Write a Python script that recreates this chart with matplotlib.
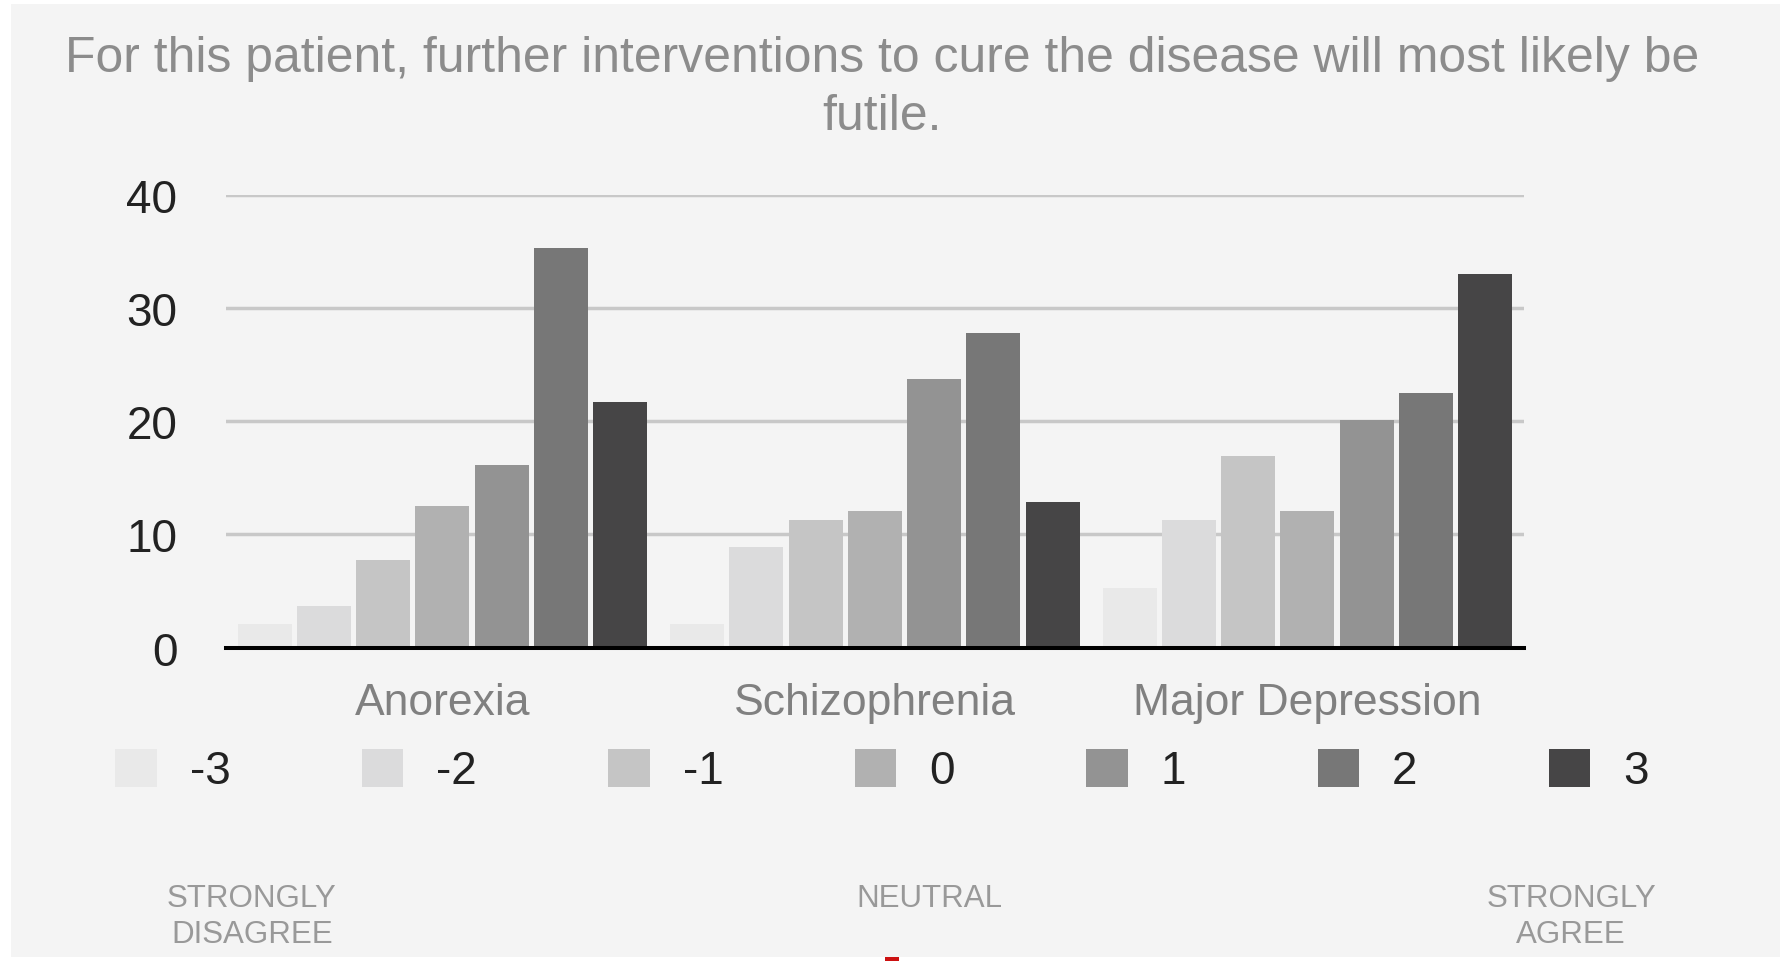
import numpy as np
import matplotlib.pyplot as plt
from matplotlib.patches import Rectangle

plt.rcParams['font.family'] = ['Liberation Sans', 'DejaVu Sans']

# data
diseases = ['Anorexia', 'Schizophrenia', 'Major Depression']
levels = ['-3', '-2', '-1', '0', '1', '2', '3']
values = {
    '-3': [2.1, 2.1, 5.3],
    '-2': [3.7, 8.9, 11.3],
    '-1': [7.7, 11.3, 16.9],
    '0': [12.5, 12.1, 12.1],
    '1': [16.1, 23.7, 20.1],
    '2': [35.3, 27.8, 22.5],
    '3': [21.7, 12.9, 33.0],
}
colors = ['#e9e9e9', '#dbdbdc', '#c5c5c5', '#b1b1b1', '#939393', '#777777', '#464546']
yticks = [0, 10, 20, 30, 40]

bg = '#f4f4f4'
fig = plt.figure(figsize=(17.8, 9.62), dpi=100, facecolor='white')
# grey panel
fig.patches.append(Rectangle((11/1780, 4/962), 1 - 11/1780, 1 - 9/962,
                             transform=fig.transFigure, facecolor=bg,
                             edgecolor='none', zorder=-10))

ax = fig.add_axes([0.127, 0.3257, 0.729, 0.4709])
ax.set_facecolor(bg)
ax.patch.set_alpha(0)

x = np.arange(len(diseases))
step = 0.137
width = 0.125
for i, lev in enumerate(levels):
    off = (i - 3) * step
    ax.bar(x + off, values[lev], width=width, color=colors[i], label=lev, zorder=3)

ax.set_xlim(-0.5, 2.5)
ax.set_ylim(0, 40)
ax.set_yticks(yticks)
ax.set_xticks(x)
ax.set_xticklabels(diseases)
for g in yticks[1:]:
    ax.axhline(g, color='#c8c8c8', lw=2.5, zorder=1)
for s in ['top', 'right', 'left']:
    ax.spines[s].set_visible(False)
ax.spines['bottom'].set_color('black')
ax.spines['bottom'].set_linewidth(2.9)
ax.spines['bottom'].set_zorder(4)
ax.tick_params(axis='y', length=0, pad=35, labelsize=33, labelcolor='#222222')
ax.tick_params(axis='x', length=0, pad=25, labelsize=32, labelcolor='#808080')

fig.text(882/1780, 1 - 59/962,
         'For this patient, further interventions to cure the disease will most likely be',
         ha='center', va='center', fontsize=35.9, color='#8c8c8c')
fig.text(882/1780, 1 - 117/962, 'futile.', ha='center', va='center',
         fontsize=35.9, color='#8c8c8c')

fig.legend(loc='center', bbox_to_anchor=(882/1780, 1 - 772/962), ncol=7,
           frameon=False, fontsize=33, handlelength=0.9, handleheight=0.9,
           handletextpad=0.72, columnspacing=2.87, labelcolor='#222222')

for xc, txt in [(252, 'STRONGLY\nDISAGREE'), (929, 'NEUTRAL\n'), (1571, 'STRONGLY\nAGREE')]:
    fig.text(xc/1780, 1 - 917/962, txt, ha='center', va='center',
             fontsize=22.5, color='#999999', linespacing=1.27)

# white strip with red mark at the bottom edge
fig.patches.append(Rectangle((684/1780, 0), 292/1780, 4/962, transform=fig.transFigure,
                             facecolor='white', edgecolor='none', zorder=-5))
fig.patches.append(Rectangle((885/1780, 0), 14/1780, 4/962, transform=fig.transFigure,
                             facecolor='#cc1111', edgecolor='none', zorder=-4))

fig.savefig('out.png', dpi=100, facecolor='white')
